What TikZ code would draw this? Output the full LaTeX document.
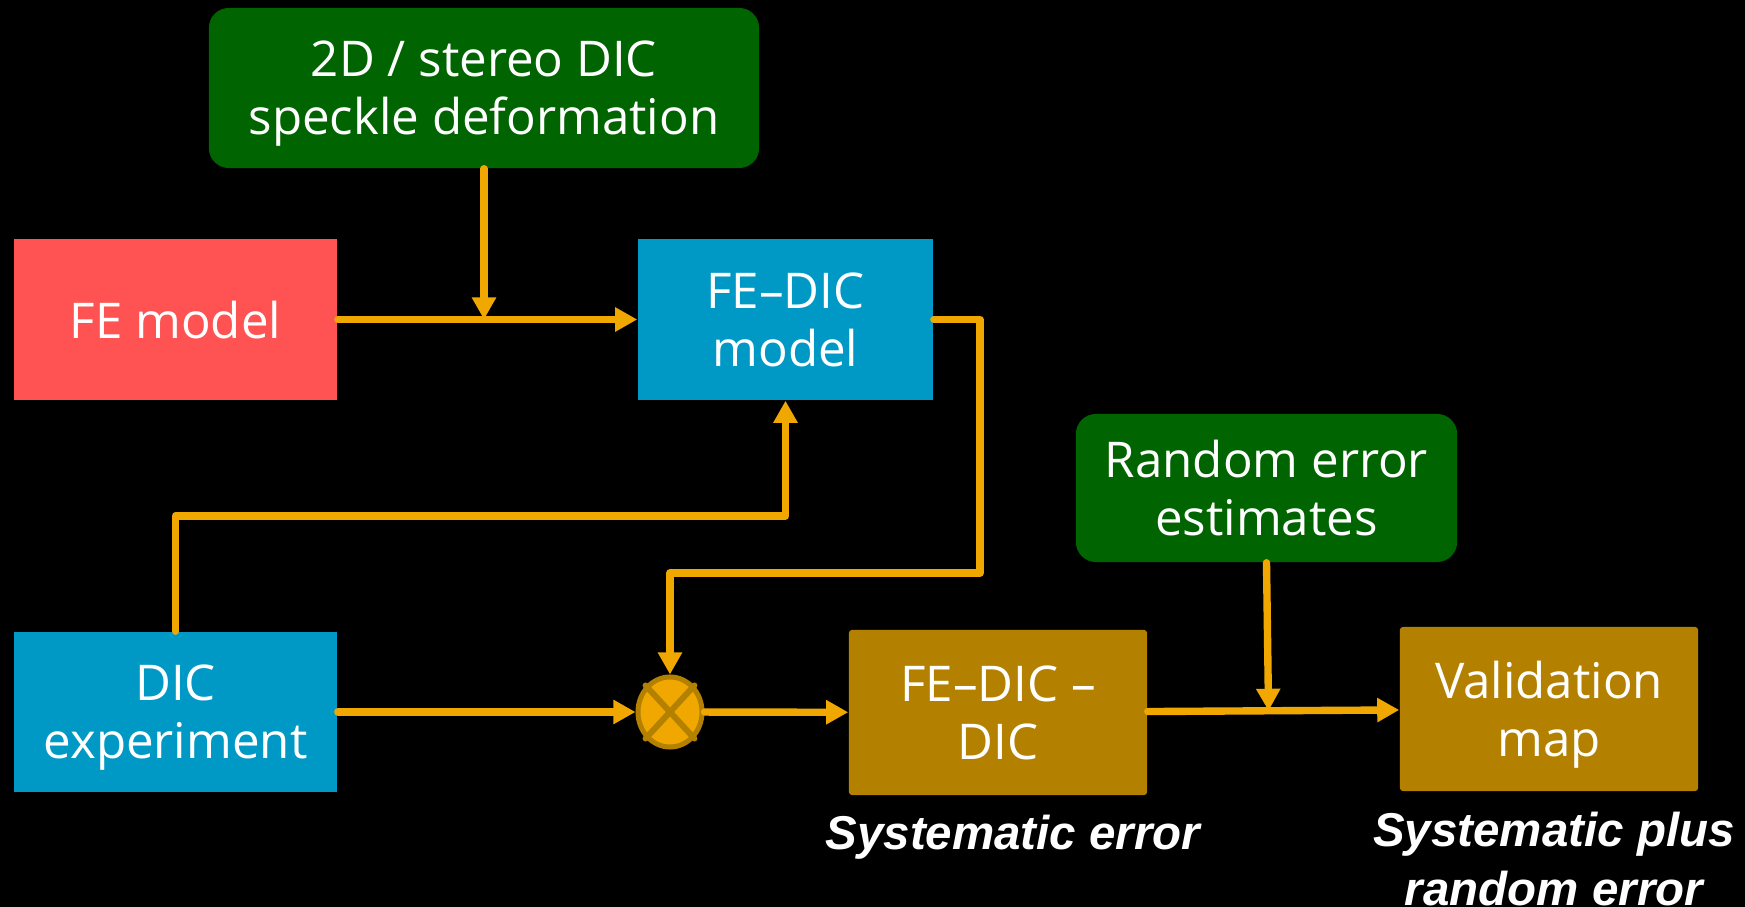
\documentclass[tikz,border=0pt]{standalone}
\usepackage{fontspec}
\setmainfont{Open Sans}
\newfontfamily\lblfont{Liberation Sans}
\usetikzlibrary{arrows.meta,shapes.geometric,calc}
\definecolor{boxgreen}{RGB}{0,100,0}
\definecolor{boxred}{RGB}{255,83,83}
\definecolor{boxblue}{RGB}{0,153,198}
\definecolor{boxgold}{RGB}{179,128,0}
\definecolor{linkorange}{RGB}{240,168,0}
\begin{document}
\begin{tikzpicture}[x=0.01cm,y=-0.01cm, line join=round, line cap=round,
  >={Triangle[length=0.22cm,width=0.23cm]},
  box/.style={inner sep=0pt, text=white, align=center, text depth=-0.03cm, font=\fontsize{14}{16.4}\selectfont},
  greenbox/.style={box, fill=boxgreen, rounded corners=0.2cm},
  goldbox/.style={box, fill=boxgold, rounded corners=0.03cm, minimum width=2.98cm},
  conn/.style={draw=linkorange, line width=2.1pt},
  lbl/.style={text=white, align=center, inner sep=0pt, font=\lblfont\bfseries\itshape\fontsize{13.5}{17}\selectfont}]
\clip (0,0) rectangle (1745,907);
\fill[black] (0,0) rectangle (1745,907);
\node[greenbox, minimum width=5.5cm, minimum height=1.6cm] (spk) at (484,88) {2D / stereo DIC\\speckle deformation};
\node[box, fill=boxred, minimum width=3.23cm, minimum height=1.61cm] (fe) at (175.5,319.5) {FE model};
\node[box, fill=boxblue, minimum width=2.95cm, minimum height=1.61cm] (fedic) at (785.5,319.5) {FE--DIC\\model};
\node[greenbox, minimum width=3.81cm, minimum height=1.48cm] (rnd) at (1266.5,488) {Random error\\estimates};
\node[box, fill=boxblue, minimum width=3.23cm, minimum height=1.6cm] (dic) at (175.5,712) {DIC\\experiment};
\node[ellipse, fill=linkorange, draw=boxgold, line width=0.05cm, minimum width=0.64cm, minimum height=0.7cm, inner sep=0pt] (sum) at (670,712) {};
\draw[boxgold, line width=0.06cm] (sum.north west) -- (sum.south east) (sum.north east) -- (sum.south west);
\node[goldbox, minimum height=1.65cm] (diff) at (998,712.5) {FE--DIC --\\DIC};
\node[goldbox, minimum height=1.64cm] (val) at (1549,709) {Validation\\map};
\node[lbl] (syslbl) at (1013,837) {Systematic error};
\node[lbl] (sumlbl) at (1554,859) {Systematic plus\\random error};
\coordinate (spkin) at (spk.south |- fe.east);
\coordinate (rndin) at ($(diff.east)!(rnd.south)!(val.west)$);
\foreach \a/\b in {fe/fedic,dic/sum,sum/diff,diff/val}{\draw[conn,->] (\a) -- (\b);}
\draw[conn,->] (spk.south) -- (spkin);
\draw[conn,->] (rnd.south) -- (rndin);
\draw[conn,->] (fedic.east) -| (980,573) -| (sum.north);
\draw[conn,->] (dic.north) |- (785.5,516) -- (fedic.south);
\end{tikzpicture}
\end{document}
